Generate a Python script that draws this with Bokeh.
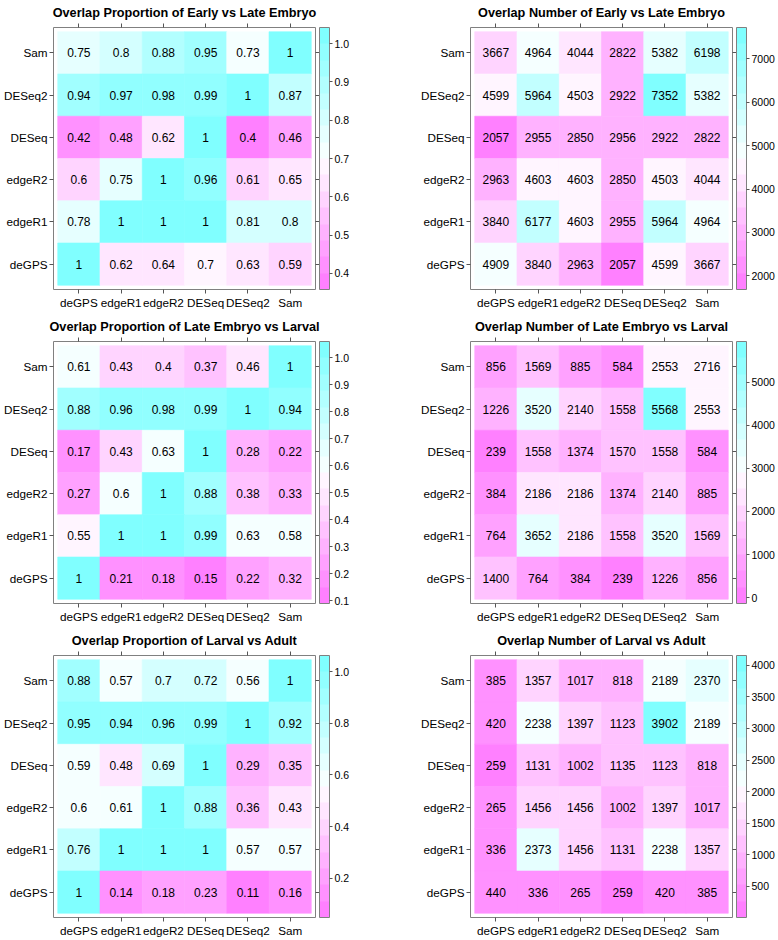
import colorsys
import numpy as np
from bokeh.plotting import figure
from bokeh.models import (Range1d, FixedTicker, LinearAxis, ColorBar, LinearColorMapper,
                          ColumnDataSource, PrintfTickFormatter)
from bokeh.layouts import column, row
from bokeh.core.properties import value
from bokeh.embed import file_html
from bokeh.resources import INLINE

# ---------------- data ----------------
methods = ["deGPS", "edgeR1", "edgeR2", "DESeq", "DESeq2", "Sam"]   # x order, and y order bottom->top

# rows listed top -> bottom as displayed (Sam, DESeq2, DESeq, edgeR2, edgeR1, deGPS)
prop_early_late = [
    [0.75, 0.8, 0.88, 0.95, 0.73, 1],
    [0.94, 0.97, 0.98, 0.99, 1, 0.87],
    [0.42, 0.48, 0.62, 1, 0.4, 0.46],
    [0.6, 0.75, 1, 0.96, 0.61, 0.65],
    [0.78, 1, 1, 1, 0.81, 0.8],
    [1, 0.62, 0.64, 0.7, 0.63, 0.59],
]
num_early_late = [
    [3667, 4964, 4044, 2822, 5382, 6198],
    [4599, 5964, 4503, 2922, 7352, 5382],
    [2057, 2955, 2850, 2956, 2922, 2822],
    [2963, 4603, 4603, 2850, 4503, 4044],
    [3840, 6177, 4603, 2955, 5964, 4964],
    [4909, 3840, 2963, 2057, 4599, 3667],
]
prop_late_larval = [
    [0.61, 0.43, 0.4, 0.37, 0.46, 1],
    [0.88, 0.96, 0.98, 0.99, 1, 0.94],
    [0.17, 0.43, 0.63, 1, 0.28, 0.22],
    [0.27, 0.6, 1, 0.88, 0.38, 0.33],
    [0.55, 1, 1, 0.99, 0.63, 0.58],
    [1, 0.21, 0.18, 0.15, 0.22, 0.32],
]
num_late_larval = [
    [856, 1569, 885, 584, 2553, 2716],
    [1226, 3520, 2140, 1558, 5568, 2553],
    [239, 1558, 1374, 1570, 1558, 584],
    [384, 2186, 2186, 1374, 2140, 885],
    [764, 3652, 2186, 1558, 3520, 1569],
    [1400, 764, 384, 239, 1226, 856],
]
prop_larval_adult = [
    [0.88, 0.57, 0.7, 0.72, 0.56, 1],
    [0.95, 0.94, 0.96, 0.99, 1, 0.92],
    [0.59, 0.48, 0.69, 1, 0.29, 0.35],
    [0.6, 0.61, 1, 0.88, 0.36, 0.43],
    [0.76, 1, 1, 1, 0.57, 0.57],
    [1, 0.14, 0.18, 0.23, 0.11, 0.16],
]
num_larval_adult = [
    [385, 1357, 1017, 818, 2189, 2370],
    [420, 2238, 1397, 1123, 3902, 2189],
    [259, 1131, 1002, 1135, 1123, 818],
    [265, 1456, 1456, 1002, 1397, 1017],
    [336, 2373, 1456, 1131, 2238, 1357],
    [440, 336, 265, 259, 420, 385],
]

titles = [
    "Overlap Proportion of Early vs Late Embryo",
    "Overlap Number of Early vs Late Embryo",
    "Overlap Proportion of Late Embryo vs Larval",
    "Overlap Number of Late Embryo vs Larval",
    "Overlap Proportion of Larval vs Adult",
    "Overlap Number of Larval vs Adult",
]
cbar_ticks = [
    [0.4, 0.5, 0.6, 0.7, 0.8, 0.9, 1.0],
    [2000, 3000, 4000, 5000, 6000, 7000],
    [0.1, 0.2, 0.3, 0.4, 0.5, 0.6, 0.7, 0.8, 0.9, 1.0],
    [0, 1000, 2000, 3000, 4000, 5000],
    [0.2, 0.4, 0.6, 0.8, 1.0],
    [500, 1000, 1500, 2000, 2500, 3000, 3500, 4000],
]

# ---------------- palette: rev(cm.colors(100)) sampled to 16 regions ----------------
def _hex(r, g, b):
    return "#%02x%02x%02x" % (int(round(r * 255)), int(round(g * 255)), int(round(b * 255)))

_k = 50
_cm = [_hex(*colorsys.hsv_to_rgb(0.5, s, 1)) for s in np.linspace(0.5, 0.5 / _k, _k)] + \
      [_hex(*colorsys.hsv_to_rgb(10 / 12, s, 1)) for s in np.linspace(0, 0.5, _k + 1)[1:]]
_rev = _cm[::-1]
PAL = [_rev[int(round(i)) - 1] for i in np.linspace(1, 100, 16)]

FONT = "Liberation Sans"
FW = 262
FH = 262


def cell_label(v):
    return "%g" % v


def heat(title, mat, ticks, fmt, left, right):
    n = len(methods)
    xs, ys, vals, labs = [], [], [], []
    for r, rv in enumerate(mat):
        for c, v in enumerate(rv):
            xs.append(c + 1)
            ys.append(n - r)
            vals.append(v)
            labs.append(cell_label(v))
    lo, hi = min(vals), max(vals)
    d = hi - lo
    mapper = LinearColorMapper(palette=PAL, low=lo - 0.07 * d, high=hi + 0.07 * d)
    src = ColumnDataSource(dict(x=xs, y=ys, v=vals, t=labs))

    p = figure(frame_width=FW, frame_height=FH,
               x_range=Range1d(0.4, n + 0.6), y_range=Range1d(0.4, n + 0.6),
               min_border_left=left, min_border_right=right,
               min_border_top=26, min_border_bottom=25,
               output_backend="svg", toolbar_location=None, title=title)
    p.title.align = "center"
    p.title.text_font = FONT
    p.title.text_font_size = "12.7px"
    p.title.text_font_style = "bold"
    p.title.text_color = "black"
    p.title.standoff = 7

    p.rect("x", "y", 1, 1, source=src,
           fill_color={"field": "v", "transform": mapper},
           line_color={"field": "v", "transform": mapper}, line_width=0.6)
    p.text("x", "y", text="t", source=src, text_align="center", text_baseline="middle",
           text_font=value(FONT), text_font_size="12px", text_color="black")

    p.grid.visible = False
    p.outline_line_color = "#808080"
    p.outline_line_width = 1
    p.background_fill_color = "white"

    tk = list(range(1, n + 1))
    names = {i + 1: m for i, m in enumerate(methods)}
    blanks = {i + 1: "" for i in range(n)}
    for ax in (p.xaxis[0], p.yaxis[0]):
        ax.ticker = FixedTicker(ticks=tk)
        ax.major_label_overrides = names
        ax.axis_line_color = None
        ax.major_tick_in = 0
        ax.major_tick_out = 4
        ax.major_tick_line_color = "#555555"
        ax.minor_tick_line_color = None
        ax.major_label_text_font = FONT
        ax.major_label_text_font_size = "11.7px"
        ax.major_label_text_color = "black"
        ax.major_label_standoff = 2

    for loc in ("above", "right"):
        ax = LinearAxis(ticker=FixedTicker(ticks=tk), major_label_overrides=blanks,
                        axis_line_color=None, major_tick_in=0, major_tick_out=4,
                        major_tick_line_color="#555555", minor_tick_line_color=None,
                        major_label_standoff=0,
                        major_label_text_font_size="11.7px")
        p.add_layout(ax, loc)

    cb = ColorBar(color_mapper=mapper, ticker=FixedTicker(ticks=ticks),
                  formatter=PrintfTickFormatter(format=fmt),
                  width=10, padding=0, margin=7,
                  bar_line_color="#808080", bar_line_width=1,
                  major_tick_in=0, major_tick_out=3, major_tick_line_color="#555555",
                  minor_tick_line_color=None, label_standoff=2,
                  major_label_text_font=FONT, major_label_text_font_size="10.5px",
                  major_label_text_color="black",
                  background_fill_color=None, border_line_color=None)
    p.add_layout(cb, "right")
    return p


mats = [prop_early_late, num_early_late, prop_late_larval, num_late_larval,
        prop_larval_adult, num_larval_adult]
fmts = ["%.1f", "%d", "%.1f", "%d", "%.1f", "%d"]

figs = []
for i in range(6):
    if i % 2 == 0:
        figs.append(heat(titles[i], mats[i], cbar_ticks[i], fmts[i], 50, 102))
    else:
        figs.append(heat(titles[i], mats[i], cbar_ticks[i], fmts[i], 50, 46))

layout = column(row(figs[0], figs[1]), row(figs[2], figs[3]), row(figs[4], figs[5]))

open("out.html", "w").write(file_html(layout, INLINE))
